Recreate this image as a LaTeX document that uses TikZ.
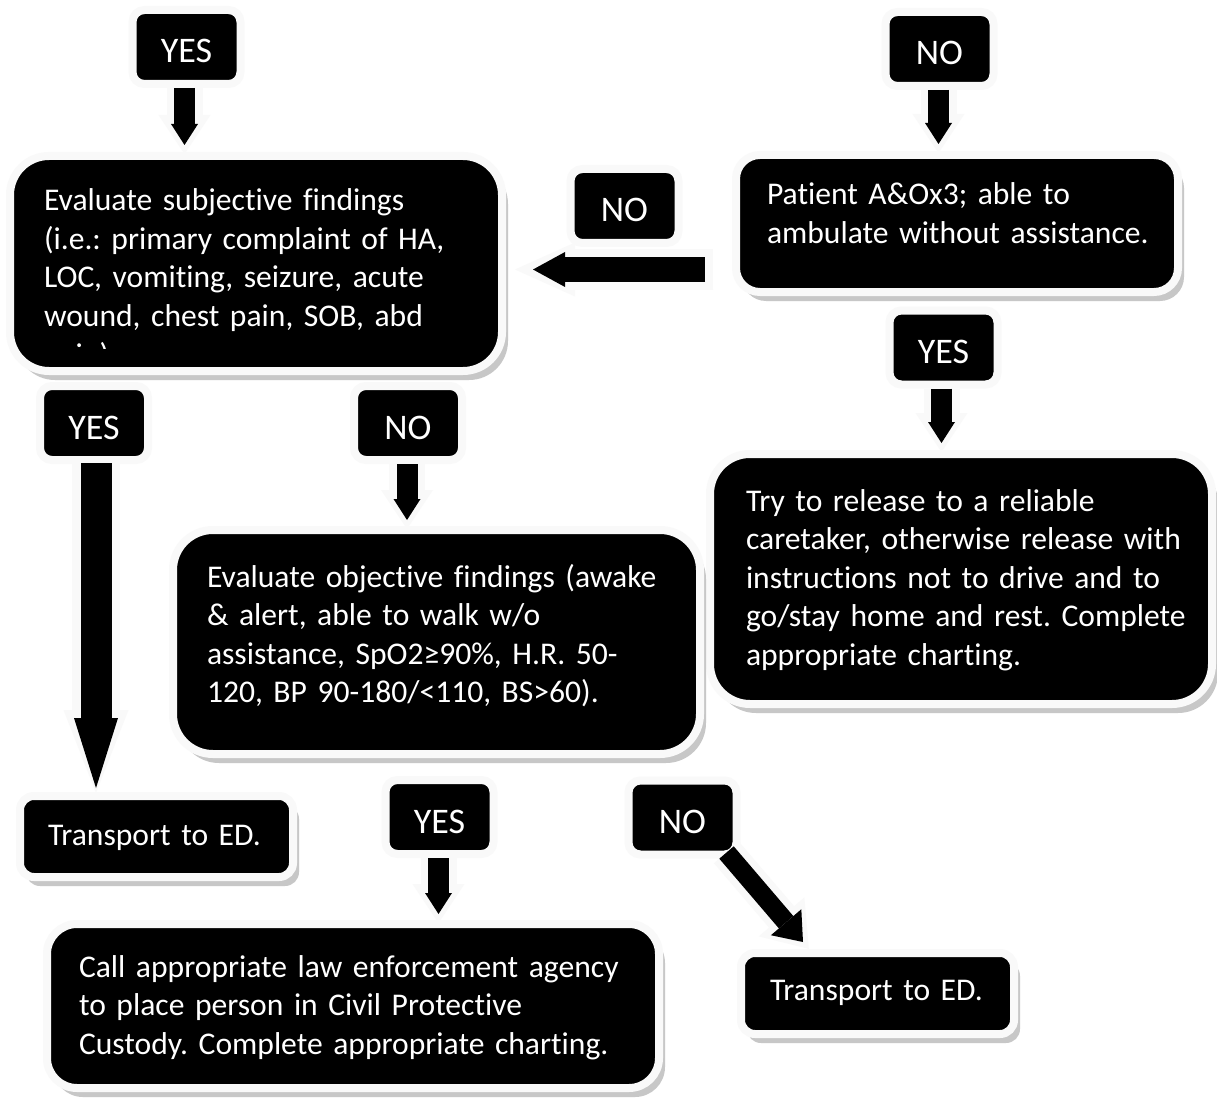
\documentclass[tikz,border=0pt]{standalone}
\usepackage{fontspec}
\setmainfont{Carlito}[Ligatures={NoCommon}]
\usetikzlibrary{arrows.meta,calc,shadows}
\newcommand\bodysize{\fontsize{31.6pt}{38.6pt}\selectfont}
\newcommand\lblsize{\fontsize{36pt}{40pt}\selectfont}
\frenchspacing
\tikzset{
  bigbox/.style={fill=black, draw=gray!5, line width=8pt, inner sep=0pt, outer sep=0pt,
    drop shadow={shadow xshift=6pt, shadow yshift=-9pt, fill=black!22, opacity=1}},
  lbl/.style={fill=black, draw=gray!5, line width=8pt, inner sep=0pt, outer sep=0pt,
    rounded corners=12pt, minimum width=108pt, minimum height=74pt, text=white,
    font=\lblsize, text height=32pt, text depth=0pt},
  txt/.style={text=white, font=\bodysize\frenchspacing, inner sep=0pt, outer sep=0pt, anchor=base west,
    align=left, text width=620pt},
  sarrow/.style={draw=black, line width=21pt, -{Triangle[width=27pt,length=21pt,line width=0pt]},
    preaction={draw=gray!5, line width=36pt, shorten >=-9pt,
      -{Triangle[width=52pt,length=39pt,line width=0pt]}}},
  larrow/.style={draw=black, line width=25pt, -{Triangle[width=35pt,length=32pt,line width=0pt]},
    preaction={draw=gray!5, line width=40pt, shorten >=-18pt, shorten <=-8pt,
      -{Triangle[width=54pt,length=60pt,line width=0pt]}}},
  varrow/.style={draw=black, line width=31pt, -{Triangle[width=44pt,length=70pt,line width=0pt]},
    preaction={draw=gray!5, line width=48pt, shorten >=-5pt,
      -{Triangle[width=65pt,length=83pt,line width=0pt]}}},
  darrow/.style={draw=black, line width=19pt, -{Triangle[width=40pt,length=26pt,line width=0pt]},
    preaction={draw=gray!5, line width=33pt, shorten >=-9pt,
      -{Triangle[width=60pt,length=42pt,line width=0pt]}}}
}
\begin{document}
\begin{tikzpicture}[x=1pt,y=-1pt]
\fill[white] (0,0) rectangle (1217,1099);
\useasboundingbox (0,0) rectangle (1217,1099);

% big boxes
\node[bigbox, rounded corners=39pt, minimum width=492pt, minimum height=215pt] (subj) at (256,263.5) {};
\node[bigbox, rounded corners=24pt, minimum width=442pt, minimum height=137pt] (patient) at (957,223.5) {};
\node[bigbox, rounded corners=40pt, minimum width=502pt, minimum height=250pt] (try) at (961,579) {};
\node[bigbox, rounded corners=40pt, minimum width=527pt, minimum height=224pt] (obj) at (436.5,642) {};
\node[bigbox, rounded corners=30pt, minimum width=612pt, minimum height=164pt] (call) at (353,1006) {};
\node[bigbox, rounded corners=14pt, minimum width=273pt, minimum height=81pt] (tl) at (156.5,836.5) {};
\node[bigbox, rounded corners=14pt, minimum width=273pt, minimum height=81pt] (tr) at (877.5,993.5) {};

% texts
\begin{scope}
\clip (14,160) rectangle (498,348);
\node[txt] (subjtxt) at (44,210.7) {Evaluate subjective findings\\(i.e.: primary complaint of HA,\\LOC, vomiting, seizure, acute\\wound, chest pain, SOB, abd\\pain).};
\end{scope}
\node[txt] (patienttxt) at (767,205) {Patient A\&Ox3; able to\\ambulate without assistance.};
\node[txt] (trytxt) at (746,511) {Try to release to a reliable\\caretaker, otherwise release with\\instructions not to drive and to\\go/stay home and rest. Complete\\appropriate charting.};
\node[txt] (objtxt) at (207,587) {Evaluate objective findings (awake\\\& alert, able to walk w/o\\assistance, SpO2≥90\%, H.R. 50-\\120, BP 90-180/<110, BS>60).};
\node[txt] (calltxt) at (79,977) {Call appropriate law enforcement agency\\to place person in Civil Protective\\Custody. Complete appropriate charting.};
\node[txt] (tltxt) at (48,845) {Transport to ED.};
\node[txt] (trtxt) at (770,1000.5) {Transport to ED.};

% labels
\node[lbl] (yes1) at (186.5,47) {YES};
\node[lbl] (no1) at (939.5,49) {NO};
\node[lbl] (no2) at (624.5,206) {NO};
\node[lbl] (yes2) at (943.5,347.5) {YES};
\node[lbl] (yes3) at (94,423) {YES};
\node[lbl] (no3) at (408,423) {NO};
\node[lbl] (yes4) at (439.5,817) {YES};
\node[lbl] (no4) at (682.5,817.5) {NO};

% connectors
\draw[sarrow] ($(yes1.south)+(-2,4)$) -- ($(yes1.south |- subj.north)+(-2,-11)$);
\draw[sarrow] ($(no1.south)+(-1,4)$) -- ($(no1.south |- patient.north)+(-1,-11)$);
\draw[sarrow] ($(yes2.south)+(-2,4)$) -- ($(yes2.south |- try.north)+(-2,-11)$);
\draw[sarrow] ($(no3.south)+(-1,4)$) -- ($(no3.south |- obj.north)+(-1,-10)$);
\draw[sarrow] ($(yes4.south)+(-1,4)$) -- ($(yes4.south |- call.north)+(-1,-10)$);
\draw[varrow] ($(yes3.south)+(2,3)$) -- ($(yes3.south |- tl.north)+(2,-8)$);
\draw[larrow] ($(patient.west)+(-31,46)$) -- ($(subj.east)+(31,6)$);
\draw[darrow] ($(no4.south east)+(-10,-2)$) -- ($(tr.north west)+(62,-11)$);
\end{tikzpicture}
\end{document}
